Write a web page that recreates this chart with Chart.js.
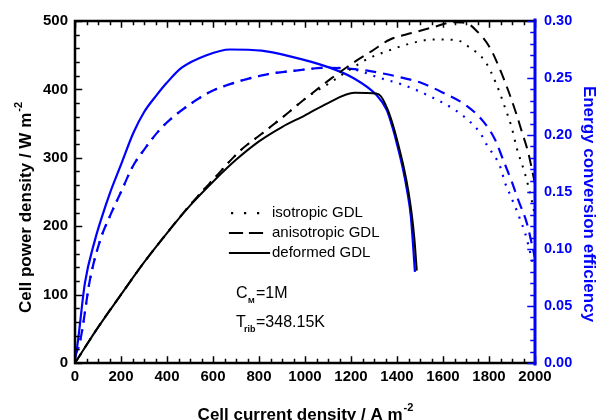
<!DOCTYPE html>
<html>
<head>
<meta charset="utf-8">
<script src="https://cdn.jsdelivr.net/npm/chart.js@4.4.1/dist/chart.umd.min.js"></script>
<style>
  html, body { margin: 0; padding: 0; background: #fff; }
  #wrap { width: 598px; height: 420px; position: relative; }
</style>
</head>
<body>
<div id="wrap"><canvas id="c" width="598" height="420"></canvas></div>
<script>
// ---- Data ----
// Cell power density (W m^-2) vs current density (A m^-2)
const powDefX = [0,100,200,300,400,500,600,700,800,900,1000,1100,1215,1310,1330,1360,1385,1405,1430,1450,1465,1476,1486];
const powDefY = [0,52,100,147,190,230,265,297,324,345,362,380,395,394,390,370,345,320,285,250,215,180,135];

const powAnisoX = [0,100,200,300,400,500,600,717,819,913,1007,1110,1210,1290,1370,1471,1558,1645,1700,1739,1804,1848,1884,1920,1942,1971,1993,2000];
const powAnisoY = [0,52,100,147,190,231,268,310,337,362,388,415,439,456,473,483,491,498,497,488,461,429,398,363,339,307,273,262];

const powIsoX = [0,100,200,300,400,500,600,717,819,913,1007,1110,1200,1280,1341,1457,1558,1659,1717,1783,1833,1870,1899,1920,1957,1985,2000];
const powIsoY = [0,52,100,147,190,231,268,310,337,362,388,410,430,446,454,467,473,472,461,441,407,373,344,315,276,239,215];

// Energy conversion efficiency vs current density
const effDefX = [0,10,43,87,120,150,200,254,300,355,400,464,572,674,811,935,1094,1210,1311,1355,1380,1400,1425,1445,1460,1478];
const effDefY = [0.004,0.015,0.070,0.108,0.130,0.148,0.174,0.202,0.220,0.235,0.246,0.259,0.270,0.275,0.274,0.269,0.260,0.250,0.235,0.222,0.207,0.192,0.171,0.150,0.129,0.080];

const effAnisoX = [0,25,65,110,150,200,250,300,370,440,580,650,830,940,1100,1200,1283,1398,1507,1601,1696,1775,1826,1862,1899,1927,1964,1985,2000];
const effAnisoY = [0.005,0.022,0.073,0.108,0.128,0.150,0.172,0.187,0.205,0.218,0.237,0.243,0.253,0.256,0.259,0.258,0.256,0.2514,0.2456,0.237,0.2266,0.212,0.196,0.178,0.159,0.143,0.123,0.1055,0.092];

const effIsoX = [0,25,65,110,150,200,250,300,370,440,580,650,830,940,1100,1200,1326,1427,1543,1652,1710,1761,1790,1848,1870,1891,1920,1935,1957,1990];
const effIsoY = [0.005,0.022,0.073,0.108,0.128,0.150,0.172,0.187,0.205,0.218,0.237,0.243,0.253,0.256,0.259,0.258,0.250,0.244,0.234,0.222,0.213,0.202,0.1915,0.1725,0.158,0.148,0.134,0.126,0.114,0.088];

// Axis ticks
const xTicks = [0,200,400,600,800,1000,1200,1400,1600,1800,2000];
const yTicks = [0,100,200,300,400,500];
const y1Ticks = [0,0.05,0.10,0.15,0.20,0.25,0.30];
const legendLabels = ['isotropic GDL','anisotropic GDL','deformed GDL'];

// ---- Helpers ----
const FONT = '"Liberation Sans", Arial, Helvetica, sans-serif';
const BLUE = '#0000ff';
function pts(xs, ys) { return xs.map((x, i) => ({x: x, y: ys[i]})); }
const DOT = [2, 7];
const DASH = [11, 7];

function ds(label, xs, ys, color, dash, axis, width) {
  return {
    label: label,
    data: pts(xs, ys),
    borderColor: color,
    backgroundColor: color,
    borderWidth: width,
    borderDash: dash,
    pointRadius: 0,
    fill: false,
    cubicInterpolationMode: 'monotone',
    yAxisID: axis
  };
}

const datasets = [
  ds('deformed GDL', powDefX, powDefY, '#000', [], 'y', 2),
  ds('anisotropic GDL', powAnisoX, powAnisoY, '#000', DASH, 'y', 2),
  ds('isotropic GDL', powIsoX, powIsoY, '#000', DOT, 'y', 2),
  ds('deformed GDL eff', effDefX, effDefY, BLUE, [], 'y1', 2.2),
  ds('anisotropic GDL eff', effAnisoX, effAnisoY, BLUE, DASH, 'y1', 2.2),
  ds('isotropic GDL eff', effIsoX, effIsoY, BLUE, DOT, 'y1', 2.2)
];

// ---- Custom frame / ticks / titles / legend ----
const framePlugin = {
  id: 'frame',
  afterDatasetsDraw(chart) {
    const ctx = chart.ctx;
    const a = chart.chartArea;
    const sx = chart.scales.x, sy = chart.scales.y, sy1 = chart.scales.y1;
    ctx.save();
    // frame lines
    ctx.lineCap = 'square';
    ctx.strokeStyle = '#000';
    ctx.lineWidth = 2.5;
    ctx.beginPath();
    ctx.moveTo(a.left, a.top); ctx.lineTo(a.right, a.top);
    ctx.moveTo(a.left, a.top); ctx.lineTo(a.left, a.bottom);
    ctx.moveTo(a.left, a.bottom); ctx.lineTo(a.right, a.bottom);
    ctx.stroke();
    ctx.lineWidth = 1.5;
    // x ticks bottom & top (major 200, minor 50)
    for (let v = 0; v <= 2000; v += 50) {
      const px = Math.round(sx.getPixelForValue(v)) + 0.5;
      const major = v % 200 === 0;
      const len = major ? 6 : 3.5;
      ctx.beginPath();
      ctx.moveTo(px, a.bottom); ctx.lineTo(px, a.bottom - len);
      ctx.moveTo(px, a.top); ctx.lineTo(px, a.top + len);
      ctx.stroke();
    }
    // left y ticks (major 100, minor 20)
    for (let v = 0; v <= 500; v += 20) {
      const py = Math.round(sy.getPixelForValue(v)) + 0.5;
      const major = v % 100 === 0;
      const len = major ? 6.5 : 4;
      ctx.beginPath();
      ctx.moveTo(a.left, py); ctx.lineTo(a.left + len, py);
      ctx.stroke();
    }
    // right axis (blue)
    ctx.strokeStyle = BLUE;
    ctx.lineWidth = 3;
    ctx.beginPath();
    ctx.moveTo(a.right, a.top - 1); ctx.lineTo(a.right, a.bottom + 1);
    ctx.stroke();
    ctx.lineWidth = 1.5;
    for (let k = 0; k <= 30; k++) {
      const v = k / 100;
      const py = Math.round(sy1.getPixelForValue(v)) + 0.5;
      const major = k % 5 === 0;
      const len = major ? 7 : 4;
      ctx.beginPath();
      ctx.moveTo(a.right, py); ctx.lineTo(a.right - len, py);
      ctx.stroke();
    }

    // ---- axis titles ----
    ctx.fillStyle = '#000';
    ctx.textBaseline = 'alphabetic';
    const tf = 'bold 17px ' + FONT;
    const sf = 'bold 11px ' + FONT;
    ctx.font = tf;
    const xt = 'Cell current density / A m';
    ctx.font = sf;
    const supW = ctx.measureText('-2').width;
    ctx.font = tf;
    const xtW = ctx.measureText(xt).width;
    const cx = (a.left + a.right) / 2;
    const x0 = cx - (xtW + supW) / 2;
    ctx.textAlign = 'left';
    ctx.fillText(xt, x0, 420);
    ctx.font = sf;
    ctx.fillText('-2', x0 + xtW + 1, 411);

    // left y title (rotated)
    ctx.save();
    ctx.translate(31, 313);
    ctx.rotate(-Math.PI / 2);
    ctx.font = tf;
    const yt = 'Cell power density / W m';
    ctx.fillText(yt, 0, 0);
    const ytW = ctx.measureText(yt).width;
    ctx.font = sf;
    ctx.fillText('-2', ytW + 1, -9);
    ctx.restore();

    // right title (rotated clockwise)
    ctx.save();
    ctx.fillStyle = BLUE;
    ctx.font = tf;
    const rt = 'Energy conversion efficiency';
    const rtW = ctx.measureText(rt).width;
    ctx.translate(584, 204 - rtW / 2);
    ctx.rotate(Math.PI / 2);
    ctx.fillText(rt, 0, 0);
    ctx.restore();

    // ---- legend ----
    ctx.fillStyle = '#000';
    ctx.strokeStyle = '#000';
    ctx.font = '15px ' + FONT;
    ctx.textBaseline = 'middle';
    const rows = [213, 233, 253];
    for (let i = 0; i < 3; i++) {
      ctx.lineWidth = 2.2;
      ctx.setLineDash([]);
      ctx.beginPath();
      if (i === 0) {
        [231, 244, 257].forEach(x => { ctx.rect(x, rows[i] - 1, 2.2, 2.2); });
        ctx.fill();
      } else if (i === 1) {
        ctx.moveTo(230, rows[i]); ctx.lineTo(242, rows[i]);
        ctx.moveTo(250, rows[i]); ctx.lineTo(262, rows[i]);
        ctx.stroke();
      } else {
        ctx.moveTo(230, rows[i]); ctx.lineTo(269, rows[i]);
        ctx.stroke();
      }
      ctx.fillText(legendLabels[i], 272, rows[i]);
    }

    // ---- annotations ----
    ctx.textBaseline = 'alphabetic';
    ctx.font = '16px ' + FONT;
    ctx.fillText('C', 236, 298);
    ctx.font = 'bold 8px ' + FONT;
    ctx.fillText('M', 248, 303);
    ctx.font = '16px ' + FONT;
    ctx.fillText('=1M', 256, 298);
    ctx.fillText('T', 236, 327);
    ctx.font = 'bold 9px ' + FONT;
    ctx.fillText('rib', 244, 332);
    ctx.font = '16px ' + FONT;
    ctx.fillText('=348.15K', 256, 327);
    ctx.restore();
  }
};

new Chart(document.getElementById('c'), {
  type: 'line',
  data: { datasets: datasets },
  plugins: [framePlugin],
  options: {
    responsive: false,
    animation: false,
    devicePixelRatio: 1,
    layout: { padding: { top: 21, left: 0, right: 0, bottom: 0 } },
    plugins: { legend: { display: false }, tooltip: { enabled: false } },
    scales: {
      x: {
        type: 'linear', min: 0, max: 2000,
        afterBuildTicks: s => { s.ticks = xTicks.map(v => ({value: v})); },
        ticks: { font: { family: FONT, size: 15, weight: 'bold' }, color: '#000', padding: 5, maxRotation: 0, autoSkip: false, callback: v => String(v) },
        grid: { display: false, drawTicks: false },
        border: { display: false },
        afterFit: s => { s.height = 57; }
      },
      y: {
        type: 'linear', position: 'left', min: 0, max: 500,
        afterBuildTicks: s => { s.ticks = yTicks.map(v => ({value: v})); },
        ticks: { font: { family: FONT, size: 15, weight: 'bold' }, color: '#000', padding: 7, callback: v => String(v) },
        grid: { display: false, drawTicks: false },
        border: { display: false },
        afterFit: s => { s.width = 75; }
      },
      y1: {
        type: 'linear', position: 'right', min: 0, max: 0.30,
        afterBuildTicks: s => { s.ticks = y1Ticks.map(v => ({value: v})); },
        ticks: { font: { family: FONT, size: 14.5, weight: 'bold' }, color: BLUE, padding: 9, callback: v => v.toFixed(2) },
        grid: { display: false, drawTicks: false },
        border: { display: false },
        afterFit: s => { s.width = 63; }
      }
    }
  }
});
</script>
</body>
</html>
